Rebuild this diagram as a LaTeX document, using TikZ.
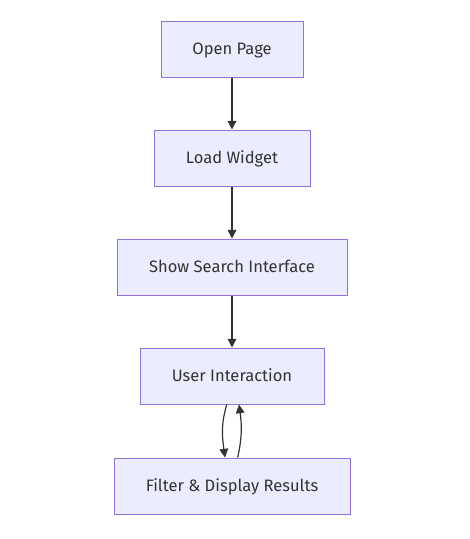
\documentclass[tikz,border=0pt]{standalone}
\usepackage{fontspec}
\setmainfont{Fira Sans}
\usetikzlibrary{calc,arrows.meta}
\definecolor{boxfill}{HTML}{ECECFF}
\definecolor{boxline}{HTML}{9370DB}
\definecolor{ink}{HTML}{333333}
\begin{document}
\begin{tikzpicture}[x=0.75pt,y=-0.75pt,
  box/.style={draw=boxline,fill=boxfill,line width=0.75pt,minimum height=56*0.75pt,
    inner sep=0pt,text=ink,font=\fontsize{12.4}{14}\selectfont,text height=8.6pt,text depth=0pt},
  link/.style={draw=ink,line width=0.9pt,-{Triangle[length=6.5pt,width=6.5pt]}}]
\useasboundingbox (0,0) rectangle (469,539);
\node[box,minimum width=142*0.75pt] (op) at (232,49) {Open Page};
\node[box,minimum width=156*0.75pt] (lw) at (232,158) {Load Widget};
\node[box,minimum width=230*0.75pt] (ss) at (232,267) {Show Search Interface};
\node[box,minimum width=184*0.75pt] (ui) at (232,376) {User Interaction};
\node[box,minimum width=236*0.75pt] (fd) at (232,486) {Filter \& Display Results};
\draw[link] (op.south) -- (lw.north);
\draw[link] (lw.south) -- (ss.north);
\draw[link] (ss.south) -- (ui.north);
\draw[link] ($(ui.south)+(-5.3,0)$) .. controls ($(ui.south)+(-11,20)$) and ($(fd.north)+(-10,-22)$) .. ($(fd.north)+(-7,0)$);
\draw[link] ($(fd.north)+(5.7,0)$) .. controls ($(fd.north)+(10,-20)$) and ($(ui.south)+(10,22)$) .. ($(ui.south)+(7,0)$);
\end{tikzpicture}
\end{document}
